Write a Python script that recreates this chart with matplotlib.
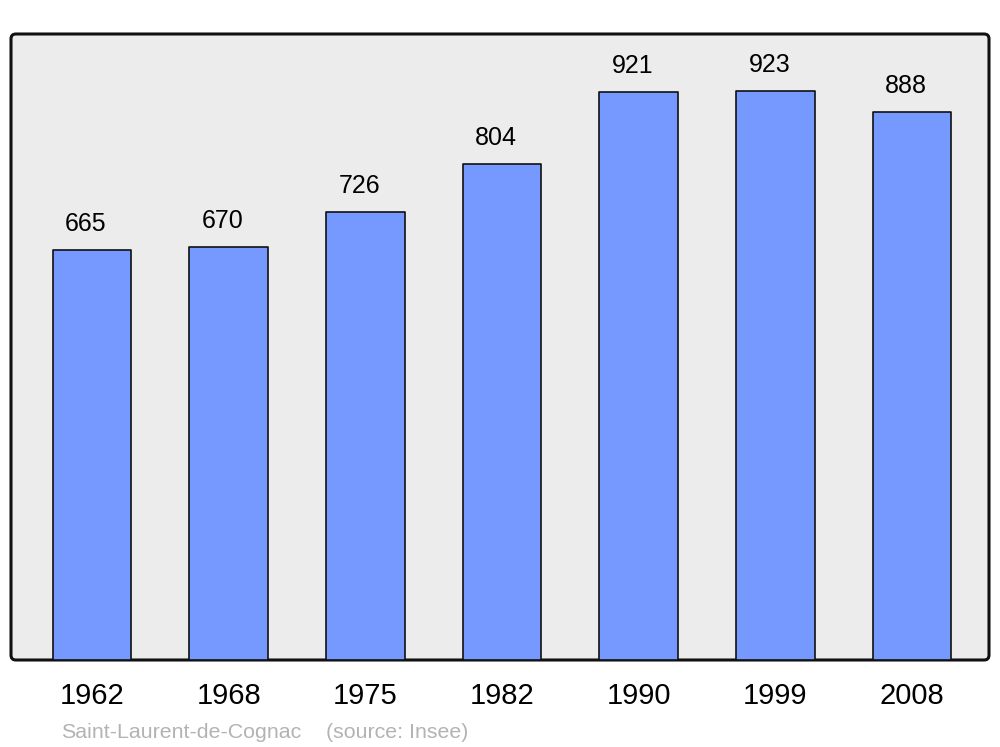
import matplotlib
matplotlib.use("Agg")
import matplotlib.pyplot as plt
from matplotlib.patches import FancyBboxPatch

years = ["1962", "1968", "1975", "1982", "1990", "1999", "2008"]
population = [665, 670, 726, 804, 921, 923, 888]
commune = "Saint-Laurent-de-Cognac"
source = "(source: Insee)"

plt.rcParams['font.family'] = ['Liberation Sans', 'DejaVu Sans']

fig = plt.figure(figsize=(10, 7.47), dpi=100)
ax = fig.add_axes([0.011, 87/747, 0.978, 626/747])
ax.patch.set_visible(False)
for s in ax.spines.values():
    s.set_visible(False)

frame = FancyBboxPatch((0, 0), 1, 1, boxstyle="round,pad=0,rounding_size=0.005",
                       mutation_aspect=978/626, transform=ax.transAxes,
                       facecolor="#ececec", edgecolor="#111111", linewidth=2.2,
                       zorder=0, clip_on=False)
ax.add_patch(frame)

x = list(range(len(years)))
bars = ax.bar(x, population, width=0.575, color="#7599ff", edgecolor="#111111",
              linewidth=1.2, zorder=2)
for b in bars:
    b.set_joinstyle("round")

for xi, v in zip(x, population):
    ax.annotate(str(v), (xi, v), xytext=(-6, 19), textcoords="offset pixels",
                ha="center", va="baseline", fontsize=18, color="#000000")

ax.set_xlim(-0.593, 6.563)
ax.set_ylim(0, 1015)
ax.set_xticks(x)
ax.set_xticklabels(years, fontsize=21)
for lbl in ax.get_xticklabels():
    lbl.set_x(lbl.get_position()[0])
ax.tick_params(axis="x", length=0, pad=16)
ax.set_yticks([])

fig.text(61/1000, 1 - 738/747, commune, fontsize=15.4, color="#b3b3b3", ha="left", va="baseline")
fig.text(326/1000, 1 - 738/747, source, fontsize=15.4, color="#b3b3b3", ha="left", va="baseline")

fig.savefig("out.png", dpi=100)
